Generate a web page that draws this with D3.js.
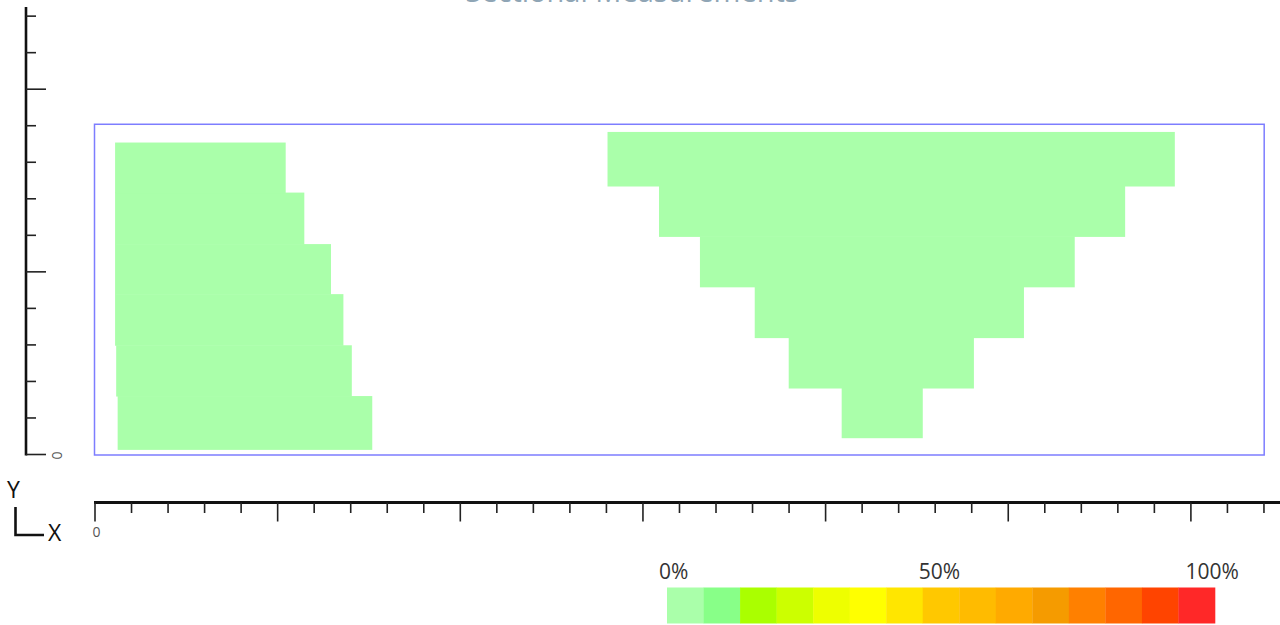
<!DOCTYPE html>
<html>
<head>
<meta charset="utf-8">
<script src="https://cdn.jsdelivr.net/npm/d3@7"></script>
<style>
  html, body { margin: 0; padding: 0; background: #fff; }
  svg { display: block; font-family: "Open Sans", "DejaVu Sans", sans-serif; }
</style>
</head>
<body>
<svg id="chart" width="1280" height="625"></svg>
<script>
// ---- data ----
const titleText = "Sectional Measurements";
// left section: rows bottom -> top
const leftY0 = [0.14, 1.60, 2.99, 4.39, 5.76, 7.17];
const leftY1 = [1.60, 2.99, 4.39, 5.76, 7.17, 8.54];
const leftX0 = [0.62, 0.58, 0.55, 0.55, 0.55, 0.55];
const leftX1 = [7.59, 7.03, 6.80, 6.46, 5.73, 5.22];
// right section: rows bottom -> top
const rightY0 = [0.46, 1.82, 3.20, 4.59, 5.97, 7.35];
const rightY1 = [1.82, 3.20, 4.59, 5.97, 7.35, 8.83];
const rightX0 = [20.44, 18.99, 18.06, 16.56, 15.44, 14.03];
const rightX1 = [22.66, 24.06, 25.43, 26.82, 28.20, 29.56];
// outline frame
const frameX = [0, 32.02];
const frameY = [0, 9.04];
// axis ticks
const xTicks = d3.range(0, 33);
const yTicks = d3.range(0, 13);
const xTickLabels = ["0"];
const yTickLabels = ["0"];
// legend
const legendColors = ["#aaffaa", "#88ff88", "#aaff00", "#ccff00", "#eeff00", "#ffff00",
  "#ffe600", "#ffc800", "#ffbb00", "#ffaa00", "#f59b00", "#ff8000", "#ff6600", "#ff4400", "#ff2828"];
const legendLabels = ["0%", "50%", "100%"];
const legendLabelPos = [0.012, 0.497, 0.995];
const fillColor = "#aaffaa";

// ---- scales ----
const unit = 36.53;
const x = d3.scaleLinear().domain([0, 32]).range([95, 95 + 32 * unit]);
const y = d3.scaleLinear().domain([0, 12]).range([454.5, 454.5 - 12 * unit]);

const svg = d3.select("#chart");

// title (clipped at top, as in the reference)
svg.append("text").attr("x", 632).attr("y", 1.5).attr("text-anchor", "middle")
  .attr("font-size", 29).attr("fill", "#8fa5b5").text(titleText);

// sections
function drawSection(y0, y1, x0, x1) {
  const rows = y0.map((d, i) => ({ y0: d, y1: y1[i], x0: x0[i], x1: x1[i] }));
  svg.append("g").selectAll("rect").data(rows).join("rect")
    .attr("x", d => x(d.x0))
    .attr("y", d => y(d.y1))
    .attr("width", d => x(d.x1) - x(d.x0))
    .attr("height", d => y(d.y0) - y(d.y1) + 0.5)
    .attr("fill", fillColor);
}
drawSection(leftY0, leftY1, leftX0, leftX1);
drawSection(rightY0, rightY1, rightX0, rightX1);

// frame
svg.append("rect")
  .attr("x", x(frameX[0]) - 0.5).attr("y", y(frameY[1]))
  .attr("width", x(frameX[1]) - x(frameX[0]))
  .attr("height", y(frameY[0]) - y(frameY[1]) + 0.5)
  .attr("fill", "none").attr("stroke", "#7d7dff").attr("stroke-width", 1.5);

// y axis
const yAxisX = 26;
svg.append("line").attr("x1", yAxisX).attr("x2", yAxisX)
  .attr("y1", 7).attr("y2", y(0) + 1)
  .attr("stroke", "#111").attr("stroke-width", 2.6);
svg.append("g").selectAll("line").data(yTicks).join("line")
  .attr("x1", yAxisX).attr("x2", d => yAxisX + (d % 5 === 0 ? 20 : 10))
  .attr("y1", d => y(d)).attr("y2", d => y(d))
  .attr("stroke", "#222").attr("stroke-width", 1.6);
svg.append("text")
  .attr("transform", `translate(${yAxisX + 31},${y(0) + 1}) rotate(90)`)
  .attr("text-anchor", "middle").attr("dy", "0.35em")
  .attr("font-size", 14).attr("fill", "#555").text(yTickLabels[0]);

// x axis
const xAxisY = 502.5;
svg.append("line").attr("x1", x(0) - 1).attr("x2", 1280)
  .attr("y1", xAxisY).attr("y2", xAxisY)
  .attr("stroke", "#111").attr("stroke-width", 2.8);
svg.append("g").selectAll("line").data(xTicks).join("line")
  .attr("x1", d => x(d)).attr("x2", d => x(d))
  .attr("y1", xAxisY).attr("y2", d => xAxisY + (d % 5 === 0 ? 19 : 10.5))
  .attr("stroke", "#222").attr("stroke-width", 1.6);
svg.append("text").attr("x", x(0) + 1.5).attr("y", 537)
  .attr("text-anchor", "middle").attr("font-size", 14).attr("fill", "#555")
  .text(xTickLabels[0]);

// orientation glyph
svg.append("text").attr("x", 7).attr("y", 498).attr("font-size", 23).attr("fill", "#111").text("Y");
svg.append("path").attr("d", "M15.5,507 V535 H44")
  .attr("fill", "none").attr("stroke", "#111").attr("stroke-width", 2.6);
svg.append("text").attr("x", 48).attr("y", 541).attr("font-size", 23).attr("fill", "#111").text("X");

// legend
const lg = d3.scaleBand().domain(d3.range(legendColors.length)).range([667, 1215]);
svg.append("g").selectAll("rect").data(legendColors).join("rect")
  .attr("x", (d, i) => lg(i)).attr("y", 587.5)
  .attr("width", lg.bandwidth() + 0.3).attr("height", 36)
  .attr("fill", d => d);
const lx = d3.scaleLinear().domain([0, 1]).range([667, 1215]);
svg.append("g").selectAll("text").data(legendLabels).join("text")
  .attr("x", (d, i) => lx(legendLabelPos[i]))
  .attr("y", 578.5).attr("text-anchor", "middle")
  .attr("font-size", 21).attr("fill", "#333")
  .text(d => d);
</script>
</body>
</html>
